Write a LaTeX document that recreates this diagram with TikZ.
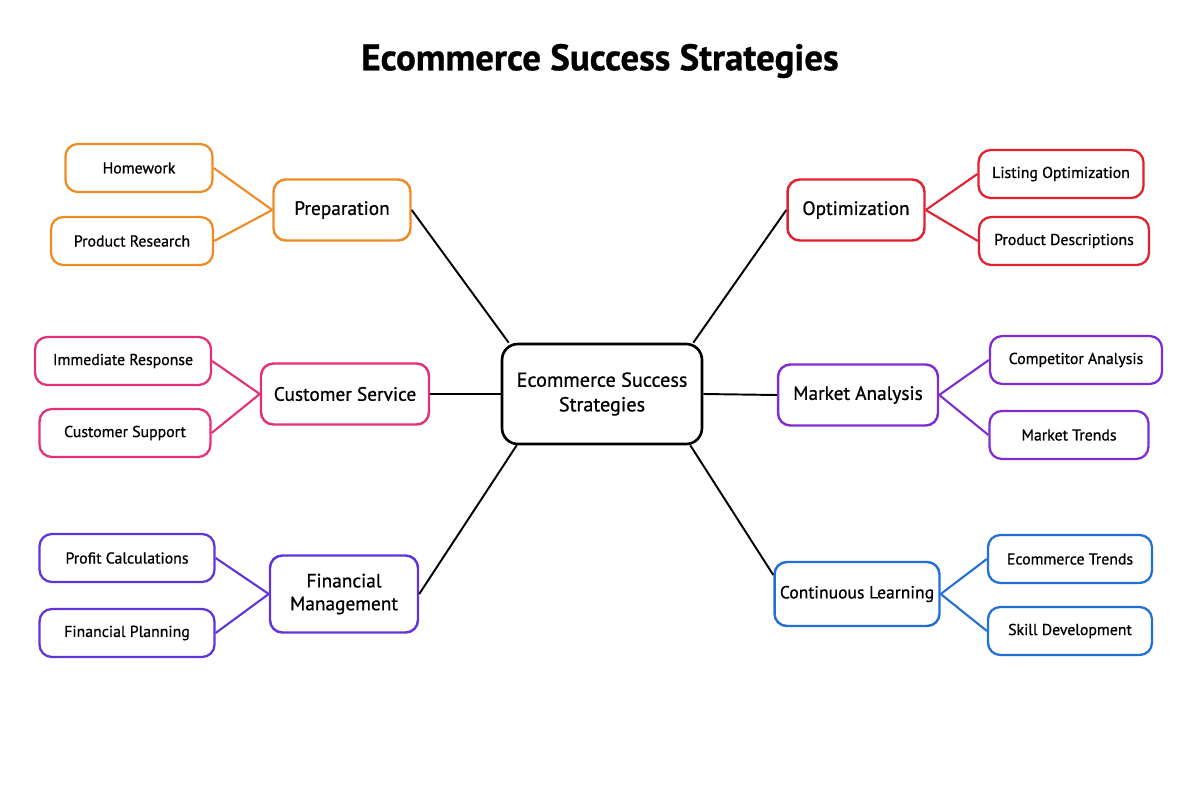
\documentclass[tikz,border=0pt]{standalone}
\usepackage{fontspec}
\setmainfont{PT Sans}[FakeBold=0.8]
\definecolor{prepcol}{RGB}{240,138,36}
\definecolor{servcol}{RGB}{228,48,122}
\definecolor{fincol}{RGB}{96,52,218}
\definecolor{optcol}{RGB}{226,32,48}
\definecolor{marketcol}{RGB}{128,44,210}
\definecolor{learncol}{RGB}{34,112,214}
\begin{document}
\begin{tikzpicture}[
                    x=0.02cm, y=-0.02cm,
                    hub/.style={draw=black, line width=1.5pt, rounded corners=9pt, align=center, font=\fontsize{11.5}{14}\selectfont, minimum width=4.0cm, minimum height=2.0cm},
                    branch/.style={draw=#1, line width=1.4pt, rounded corners=7pt, align=center, font=\fontsize{11}{13}\selectfont, minimum height=1.22cm, inner sep=1pt},
                    leaf/.style={draw=#1, line width=1.3pt, rounded corners=7pt, align=center, font=\fontsize{9}{11}\selectfont, minimum height=0.96cm, inner sep=2pt},
                    link/.style={line width=1.1pt, black},
                    sublink/.style={line width=1.2pt, #1}
                ]
                \useasboundingbox (0,0) rectangle (1200,800);

                % title
                \node[font=\fontsize{21}{24}\selectfont\bfseries] (title) at (600,61) {Ecommerce Success Strategies};

                % centre
                \node[hub] (hub) at (602,394) {Ecommerce Success\\Strategies};

                % left branches
                \node[branch=prepcol, minimum width=2.74cm] (prep) at (342,210) {Preparation};
                \node[leaf=prepcol, minimum width=2.94cm] (homework) at (139,168) {Homework};
                \node[leaf=prepcol, minimum width=3.24cm] (research) at (132,241) {Product Research};

                \node[branch=servcol, minimum width=3.36cm] (service) at (345,394) {Customer Service};
                \node[leaf=servcol, minimum width=3.52cm] (response) at (123,361) {Immediate Response};
                \node[leaf=servcol, minimum width=3.42cm] (support) at (125,433) {Customer Support};

                \node[branch=fincol, minimum width=2.96cm, minimum height=1.54cm] (finance) at (344,594) {Financial\\Management};
                \node[leaf=fincol, minimum width=3.5cm] (profit) at (127,558) {Profit Calculations};
                \node[leaf=fincol, minimum width=3.5cm] (planning) at (127,633) {Financial Planning};

                % right branches
                \node[branch=optcol, minimum width=2.74cm] (optim) at (856,210) {Optimization};
                \node[leaf=optcol, minimum width=3.3cm] (listing) at (1061,174) {Listing Optimization};
                \node[leaf=optcol, minimum width=3.4cm] (descr) at (1064,241) {Product Descriptions};

                \node[branch=marketcol, minimum width=3.2cm] (market) at (858,395) {Market Analysis};
                \node[leaf=marketcol, minimum width=3.44cm] (compet) at (1076,360) {Competitor Analysis};
                \node[leaf=marketcol, minimum width=3.18cm] (mtrends) at (1069,435) {Market Trends};

                \node[branch=learncol, minimum width=3.3cm, minimum height=1.28cm, font=\fontsize{10}{12}\selectfont] (learn) at (857,594) {Continuous Learning};
                \node[leaf=learncol, minimum width=3.28cm] (etrends) at (1070,559) {Ecommerce Trends};
                \node[leaf=learncol, minimum width=3.28cm] (skill) at (1070,631) {Skill Development};

                % hub links
                \draw[link] (prep.east) -- ([xshift=0.16cm]hub.north west);
                \draw[link] (service.east) -- (hub.west);
                \draw[link] (finance.east) -- ([xshift=0.32cm]hub.south west);
                \draw[link] (optim.west) -- ([xshift=-0.2cm]hub.north east);
                \draw[link] (market.west) -- (hub.east);
                \draw[link] ([yshift=0.38cm]learn.west) -- ([xshift=-0.26cm]hub.south east);

                % leaf links
                \draw[sublink=prepcol] (homework.east) -- (prep.west);
                \draw[sublink=prepcol] (research.east) -- (prep.west);
                \draw[sublink=servcol] (response.east) -- (service.west);
                \draw[sublink=servcol] (support.east) -- (service.west);
                \draw[sublink=fincol] (profit.east) -- (finance.west);
                \draw[sublink=fincol] (planning.east) -- (finance.west);
                \draw[sublink=optcol] (optim.east) -- (listing.west);
                \draw[sublink=optcol] (optim.east) -- (descr.west);
                \draw[sublink=marketcol] (market.east) -- (compet.west);
                \draw[sublink=marketcol] (market.east) -- (mtrends.west);
                \draw[sublink=learncol] (learn.east) -- (etrends.west);
                \draw[sublink=learncol] (learn.east) -- (skill.west);

            \end{tikzpicture}
\end{document}
